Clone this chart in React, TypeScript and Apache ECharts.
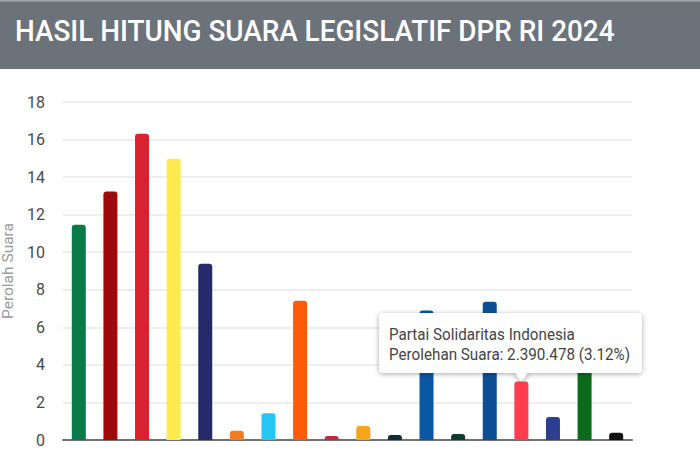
import React, { useEffect, useRef } from "react";
import * as echarts from "echarts";

const titleText = "HASIL HITUNG SUARA LEGISLATIF DPR RI 2024";
const yAxisName = "Perolah Suara";

const categories = [
  "Partai Kebangkitan Bangsa",
  "Partai Gerakan Indonesia Raya",
  "Partai Demokrasi Indonesia Perjuangan",
  "Partai Golongan Karya",
  "Partai NasDem",
  "Partai Buruh",
  "Partai Gelombang Rakyat Indonesia",
  "Partai Keadilan Sejahtera",
  "Partai Kebangkitan Nusantara",
  "Partai Hati Nurani Rakyat",
  "Partai Garda Republik Indonesia",
  "Partai Amanat Nasional",
  "Partai Bulan Bintang",
  "Partai Demokrat",
  "Partai Solidaritas Indonesia",
  "Partai Perindo",
  "Partai Persatuan Pembangunan",
  "Partai Ummat",
];

const shares = [
  11.46, 13.24, 16.31, 14.98, 9.38, 0.49, 1.42, 7.42, 0.21, 0.75, 0.27, 6.89,
  0.32, 7.36, 3.12, 1.23, 3.9, 0.39,
];

const barColors = [
  "#0b7a4b", "#9e0a0a", "#d8232e", "#fdeb4d", "#252a6a", "#f47b20",
  "#26c6f4", "#ff5a0a", "#c8293a", "#f5a41c", "#0f2d3d", "#0c57a3",
  "#0f3b2a", "#0d4f96", "#ff3d4e", "#2b3f8c", "#0b6b1b", "#111111",
];

const yTicks = { min: 0, max: 18, interval: 2 };

const tooltipTitle = "Partai Solidaritas Indonesia";
const tooltipLine = "Perolehan Suara: 2.390.478 (3.12%)";

function measure(text: string, font: string): number {
  const c = document.createElement("canvas");
  const ctx = c.getContext("2d");
  if (!ctx) return 1;
  ctx.font = font;
  return ctx.measureText(text).width || 1;
}

export default function App() {
  const ref = useRef<HTMLDivElement>(null);

  useEffect(() => {
    if (!ref.current) return;
    const chart = echarts.init(ref.current, undefined, { renderer: "svg" });

    const titleSize = 29.5;
    const titleW = measure(titleText, `500 ${titleSize}px Roboto`);
    const titleScale = 600 / titleW;

    const tipSize = 17.3;
    const tipW = measure(tooltipLine, `${tipSize}px Roboto`);
    const tipScale = 241 / tipW;

    chart.setOption({
      animation: false,
      backgroundColor: "#ffffff",
      grid: {
        left: 63,
        right: 68,
        top: 102,
        bottom: 26,
        containLabel: false,
        outerBoundsMode: "none",
      },
      xAxis: {
        type: "category",
        data: categories,
        axisTick: { show: false },
        axisLine: { lineStyle: { color: "#707070", width: 2 } },
        axisLabel: { show: false },
      },
      yAxis: {
        type: "value",
        min: yTicks.min,
        max: yTicks.max,
        interval: yTicks.interval,
        name: yAxisName,
        nameLocation: "middle",
        nameGap: 41,
        nameRotate: 90,
        nameTextStyle: { color: "#9a9a9a", fontSize: 15.5, fontFamily: "Roboto" },
        axisLine: { show: false },
        axisTick: { show: false },
        axisLabel: { fontSize: 16, color: "#4a4a4a", margin: 18, fontFamily: "Roboto" },
        splitLine: { lineStyle: { color: "#e8e8e8", width: 1.5 } },
      },
      series: [
        {
          type: "bar",
          barWidth: 14,
          data: shares.map((v, i) => ({
            value: v,
            itemStyle: { color: barColors[i], borderRadius: [3, 3, 0, 0] },
          })),
        },
      ],
      graphic: [
        {
          type: "rect",
          z: 10,
          shape: { x: 0, y: 0, width: 700, height: 69 },
          style: { fill: "#6b727a" },
        },
        {
          type: "rect",
          z: 10,
          shape: { x: 0, y: 0, width: 700, height: 1.5 },
          style: { fill: "#a3a8ad" },
        },
        {
          type: "text",
          z: 11,
          x: 15,
          y: 31,
          scaleX: titleScale,
          style: {
            text: titleText,
            fontSize: titleSize,
            fontWeight: 500,
            fontFamily: "Roboto",
            fill: "#ffffff",
            verticalAlign: "middle",
          },
        },
        {
          type: "polygon",
          z: 20,
          shape: { points: [[513, 372], [530, 372], [521.5, 381]] },
          style: {
            fill: "#ffffff",
            shadowBlur: 5,
            shadowColor: "rgba(0,0,0,0.35)",
            shadowOffsetY: 1,
          },
        },
        {
          type: "rect",
          z: 21,
          shape: { x: 379, y: 313, width: 263, height: 60, r: 4 },
          style: {
            fill: "#ffffff",
            shadowBlur: 5,
            shadowColor: "rgba(0,0,0,0.35)",
            shadowOffsetY: 1,
          },
        },
        {
          type: "polygon",
          z: 22,
          shape: { points: [[513, 370], [530, 370], [521.5, 379.5]] },
          style: { fill: "#ffffff" },
        },
        {
          type: "text",
          z: 23,
          x: 389,
          y: 334,
          scaleX: tipScale,
          style: {
            text: tooltipTitle,
            fontSize: tipSize,
            fontFamily: "Roboto",
            fill: "#444444",
            verticalAlign: "middle",
          },
        },
        {
          type: "text",
          z: 23,
          x: 389,
          y: 354,
          scaleX: tipScale,
          style: {
            text: tooltipLine,
            fontSize: tipSize,
            fontFamily: "Roboto",
            fill: "#444444",
            verticalAlign: "middle",
          },
        },
      ],
    });

    return () => chart.dispose();
  }, []);

  return (
    <div
      style={{
        position: "absolute",
        left: 0,
        top: 0,
        width: 700,
        height: 466,
        overflow: "hidden",
        background: "#fff",
      }}
    >
      <div ref={ref} style={{ width: 700, height: 466 }} />
    </div>
  );
}
